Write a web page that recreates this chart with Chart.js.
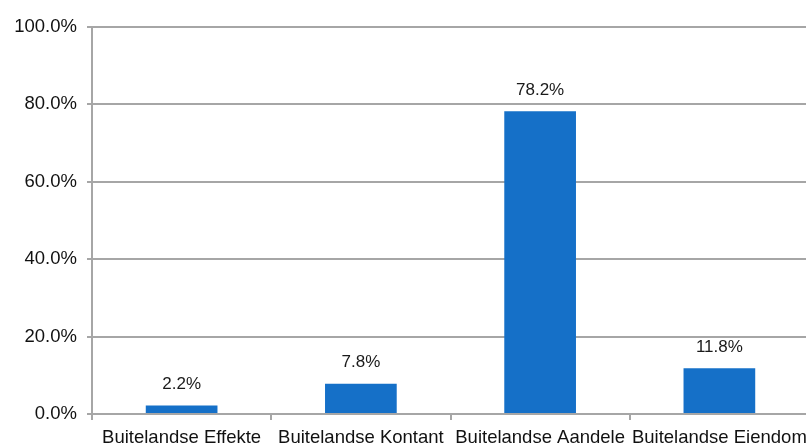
<!DOCTYPE html>
<html>
<head>
<meta charset="utf-8">
<script src="https://cdn.jsdelivr.net/npm/chart.js@4"></script>
<style>
  html, body { margin: 0; padding: 0; overflow: hidden; background: #fff; }
  #wrap { position: absolute; left: 0; top: 0; width: 830px; height: 443px; }
</style>
</head>
<body>
<div id="wrap"><canvas id="chart"></canvas></div>
<script>
// data
const categories = ["Buitelandse Effekte", "Buitelandse Kontant", "Buitelandse Aandele", "Buitelandse Eiendom"];
const values = [2.2, 7.8, 78.2, 11.8];
const yTicks = [0, 20, 40, 60, 80, 100];

const gridGrey = "#a6a6a6";
const fontFam = "'Liberation Sans', Arial, sans-serif";

// labels above the bars
const valueLabels = {
    id: "valueLabels",
    afterDatasetsDraw(chart) {
        const ctx = chart.ctx;
        const meta = chart.getDatasetMeta(0);
        ctx.save();
        ctx.font = "17px " + fontFam;
        ctx.fillStyle = "#1a1a1a";
        ctx.textAlign = "center";
        ctx.textBaseline = "bottom";
        meta.data.forEach((bar, i) => {
            ctx.fillText(values[i].toFixed(1) + "%", bar.x, bar.y - 13);
        });
        ctx.restore();
    }
};

new Chart(document.getElementById("chart"), {
    type: "bar",
    data: {
        labels: categories,
        datasets: [{
            data: values,
            backgroundColor: "#1570c8",
            categoryPercentage: 1,
            barPercentage: 0.4
        }]
    },
    options: {
        responsive: true,
        maintainAspectRatio: false,
        animation: false,
        layout: { padding: { top: 27, right: 21, bottom: 0, left: 0 } },
        plugins: {
            legend: { display: false },
            tooltip: { enabled: false }
        },
        scales: {
            x: {
                grid: {
                    display: true,
                    offset: true,
                    drawOnChartArea: false,
                    drawTicks: true,
                    tickLength: 6,
                    color: gridGrey,
                    lineWidth: 2
                },
                border: { color: gridGrey, width: 2 },
                ticks: {
                    color: "#111",
                    padding: 7,
                    maxRotation: 0,
                    autoSkip: false,
                    font: { family: fontFam, size: 18.5 }
                },
                afterFit(scale) { scale.height = 29; }
            },
            y: {
                min: 0,
                max: 100,
                afterBuildTicks(scale) { scale.ticks = yTicks.map(v => ({ value: v })); },
                grid: {
                    color: gridGrey,
                    lineWidth: 2,
                    tickLength: 5
                },
                border: { color: gridGrey, width: 2 },
                ticks: {
                    color: "#111",
                    padding: 10,
                    callback: v => v.toFixed(1) + "%",
                    font: { family: fontFam, size: 18.5 }
                },
                afterFit(scale) { scale.width = 92; }
            }
        }
    },
    plugins: [valueLabels]
});
</script>
</body>
</html>
